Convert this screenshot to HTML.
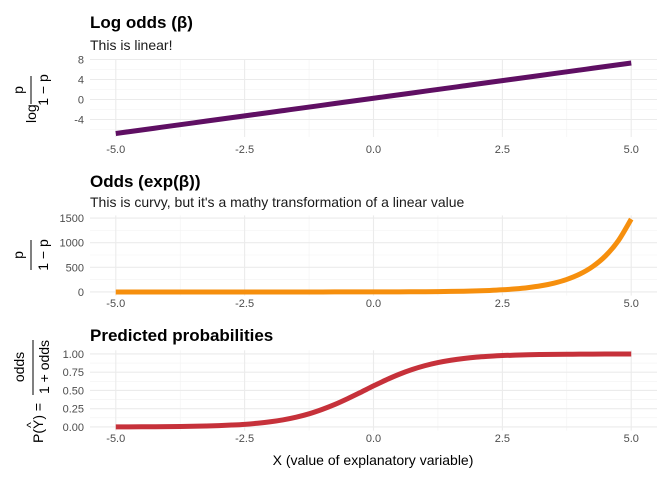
<!DOCTYPE html>
<html><head><meta charset="utf-8"><style>
body{margin:0;background:#fff}
svg{display:block;font-family:"Liberation Sans",sans-serif}
</style></head><body>
<svg id="c" width="672" height="480"></svg>
<script>
const xs=[-5,-4.75,-4.5,-4.25,-4,-3.75,-3.5,-3.25,-3,-2.75,-2.5,-2.25,-2,-1.75,-1.5,-1.25,-1,-0.75,-0.5,-0.25,0,0.25,0.5,0.75,1,1.25,1.5,1.75,2,2.25,2.5,2.75,3,3.25,3.5,3.75,4,4.25,4.5,4.75,5];
const logOdds=[-6.8,-6.4475,-6.095,-5.7425,-5.39,-5.0375,-4.685,-4.3325,-3.98,-3.6275,-3.275,-2.9225,-2.57,-2.2175,-1.865,-1.5125,-1.16,-0.8075,-0.455,-0.1025,0.25,0.6025,0.955,1.3075,1.66,2.0125,2.365,2.7175,3.07,3.4225,3.775,4.1275,4.48,4.8325,5.185,5.5375,5.89,6.2425,6.595,6.9475,7.3];
const odds=[0.0011,0.0016,0.0023,0.0032,0.0046,0.0065,0.0092,0.0131,0.0187,0.0266,0.038,0.0538,0.077,0.109,0.155,0.22,0.313,0.446,0.634,0.9026,1.28,1.826,2.6,3.697,5.26,7.48,10.6,15.14,21.5,30.6,43.6,62.0,88.2,125.5,178.6,254,361,514,731,1041,1480];
const probs=[0.001,0.0016,0.0023,0.0032,0.0045,0.0065,0.0091,0.0129,0.018,0.0259,0.036,0.051,0.071,0.098,0.134,0.18,0.239,0.308,0.388,0.474,0.562,0.646,0.722,0.787,0.84,0.882,0.914,0.938,0.956,0.968,0.978,0.984,0.989,0.992,0.9944,0.996,0.9972,0.998,0.9986,0.999,0.9993];
const xTicks=[-5,-2.5,0,2.5,5];
const xTickLabels=["-5.0","-2.5","0.0","2.5","5.0"];
const y1Ticks=[-4,0,4,8];
const y2Ticks=[0,500,1000,1500];
const y3Ticks=[0,0.25,0.5,0.75,1];
const y3Labels=["0.00","0.25","0.50","0.75","1.00"];

const NS="http://www.w3.org/2000/svg";
const svg=document.getElementById('c');
function el(tag,attrs,parent){const e=document.createElementNS(NS,tag);for(const k in attrs)e.setAttribute(k,attrs[k]);(parent||svg).appendChild(e);return e;}
const X0=90,X1=657;
function xs_(v){return X0+(v-(-5.5))/11*(X1-X0);}

function panel(name,top,bottom,ymin,ymax,yt,ytl,vals,color,tickLabelY){
  const g=el('g',{});
  
  
  const ys=v=>bottom-(v-ymin)/(ymax-ymin)*(bottom-top);
  for(let i=0;i<xTicks.length-1;i++){
    const m=(xTicks[i]+xTicks[i+1])/2;
    const l=el('line',{x1:xs_(m),x2:xs_(m),y1:top,y2:bottom,stroke:'#f2f2f2','stroke-width':0.6},g);
    
    
  }
  for(let i=0;i<yt.length-1;i++){
    const m=(yt[i]+yt[i+1])/2;
    const l=el('line',{x1:X0,x2:X1,y1:ys(m),y2:ys(m),stroke:'#f2f2f2','stroke-width':0.6},g);
    
    
  }
  if(yt[0]-(yt[1]-yt[0])/2>ymin){const m=yt[0]-(yt[1]-yt[0])/2;el('line',{x1:X0,x2:X1,y1:ys(m),y2:ys(m),stroke:'#f2f2f2','stroke-width':0.6},g);}
  xTicks.forEach((t,i)=>{
    const l=el('line',{x1:xs_(t),x2:xs_(t),y1:top,y2:bottom,stroke:'#ebebeb','stroke-width':1.1},g);
    
    
    const tx=el('text',{x:xs_(t),y:tickLabelY,'text-anchor':'middle','font-size':11,fill:'#4d4d4d'},g);
    tx.textContent=xTickLabels[i];
    
    
  });
  yt.forEach((t,i)=>{
    const l=el('line',{x1:X0,x2:X1,y1:ys(t),y2:ys(t),stroke:'#ebebeb','stroke-width':1.1},g);
    
    
    const tx=el('text',{x:X0-6,y:ys(t)+4,'text-anchor':'end','font-size':11,fill:'#4d4d4d'},g);
    tx.textContent=ytl[i];
    
    
  });
  const P=xs.map((x,i)=>[xs_(x),ys(vals[i])]);
  let d='M'+P[0][0]+','+P[0][1];
  for(let i=0;i<P.length-1;i++){
    const p0=P[Math.max(0,i-1)],p1=P[i],p2=P[i+1],p3=P[Math.min(P.length-1,i+2)];
    const c1=[p1[0]+(p2[0]-p0[0])/6,p1[1]+(p2[1]-p0[1])/6];
    const c2=[p2[0]-(p3[0]-p1[0])/6,p2[1]-(p3[1]-p1[1])/6];
    d+=` C${c1[0]},${c1[1]} ${c2[0]},${c2[1]} ${p2[0]},${p2[1]}`;
  }
  const path=el('path',{d:d,fill:'none',stroke:color,'stroke-width':5},g);
  
  
}
panel('log-odds-panel',59.5,137,-7.5,8,y1Ticks,y1Ticks.map(String),logOdds,'#5f0f63',153);
panel('odds-panel',215.4,295.6,-74,1554,y2Ticks,y2Ticks.map(String),odds,'#f68f0d',307);
panel('probability-panel',350.3,430.6,-0.05,1.05,y3Ticks,y3Labels,probs,'#c6313a',442);
</script>
<svg width="672" height="480" style="position:absolute;left:0;top:0">
<text x="90" y="28" font-size="17" font-weight="bold" fill="#000">Log odds (β)</text>
<text x="90" y="50" font-size="14" fill="#1a1a1a">This is linear!</text>
<text x="90" y="187" font-size="17" font-weight="bold" fill="#000">Odds (exp(β))</text>
<text x="90" y="207" font-size="14" fill="#1a1a1a">This is curvy, but it's a mathy transformation of a linear value</text>
<text x="90" y="341" font-size="17" font-weight="bold" fill="#000">Predicted probabilities</text>
<text x="373" y="465" font-size="14" text-anchor="middle" fill="#000">X (value of explanatory variable)</text>
<g font-size="14" fill="#000">
 <text transform="translate(36,123) rotate(-90)" text-anchor="start">log</text>
 <text transform="translate(23,90) rotate(-90)" text-anchor="middle">p</text>
 <line x1="31" y1="76" x2="31" y2="104" stroke="#000" stroke-width="1"/>
 <text transform="translate(48,90) rotate(-90)" text-anchor="middle">1 − p</text>
</g>
<g font-size="14" fill="#000">
 <text transform="translate(23,255) rotate(-90)" text-anchor="middle">p</text>
 <line x1="31" y1="240" x2="31" y2="270" stroke="#000" stroke-width="1"/>
 <text transform="translate(48,255) rotate(-90)" text-anchor="middle">1 − p</text>
</g>
<g font-size="14" fill="#000">
 <text transform="translate(43,443) rotate(-90)" text-anchor="start">P(Y) =</text>
 <text transform="translate(35,425) rotate(-90)" text-anchor="middle" font-size="12">^</text>
 <text transform="translate(24,367) rotate(-90)" text-anchor="middle">odds</text>
 <line x1="33" y1="340" x2="33" y2="395" stroke="#000" stroke-width="1"/>
 <text transform="translate(49,367) rotate(-90)" text-anchor="middle">1 + odds</text>
</g>
</svg>
</body></html>
